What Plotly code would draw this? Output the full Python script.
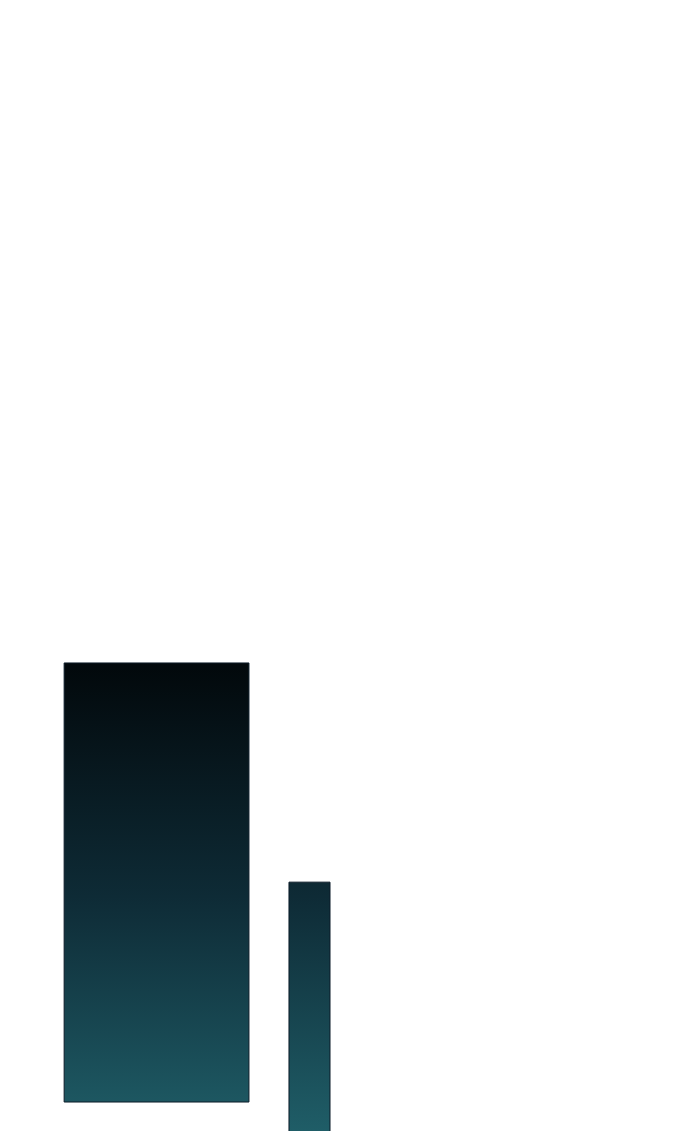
import plotly.graph_objects as go

# bar data (variable width floating bars)
bar_names = ["A", "B"]
bar_centers = [21.22, 43.07]
bar_widths = [26.4, 5.86]
bar_bases = [3.27, -5.0]
bar_tops = [42.09, 22.71]

fig = go.Figure()

#* each bar drawn as a filled polygon so it can take a vertical gradient
for name, c, w, b, t in zip(bar_names, bar_centers, bar_widths, bar_bases, bar_tops):
    x0, x1 = c - w / 2, c + w / 2
    fig.add_trace(go.Scatter(
        x=[x0, x1, x1, x0, x0],
        y=[b, b, t, t, b],
        mode="lines",
        name=name,
        fill="toself",
        line=dict(color="#0b1b28", width=1),
        fillgradient=dict(
            type="vertical",
            start=0.7,
            stop=bar_tops[0],
            colorscale=[[0, "#1f5d67"], [0.5, "#0e2b36"], [1, "#02080b"]],
        ),
        hoverinfo="skip",
    ))

fig.update_layout(
    width=700,
    height=1131,
    margin=dict(l=0, r=0, t=0, b=0),
    paper_bgcolor="white",
    plot_bgcolor="white",
    showlegend=False,
    xaxis=dict(range=[0, 100], visible=False),
    yaxis=dict(range=[0, 100], visible=False),
)

fig.write_html("out.html")
